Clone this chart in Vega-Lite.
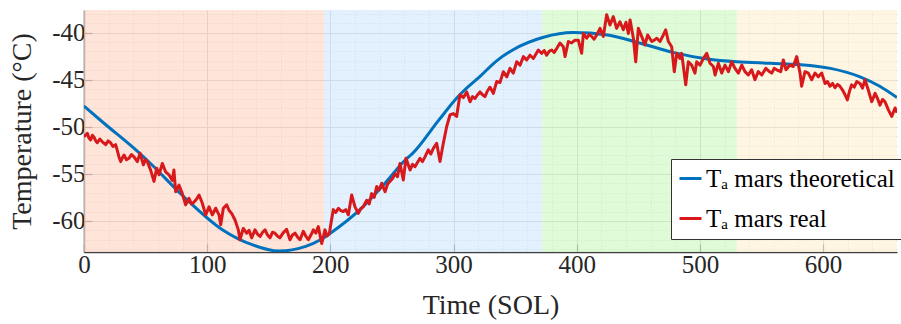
{
  "$schema": "https://vega.github.io/schema/vega-lite/v6.json",
  "width": 813,
  "height": 242,
  "autosize": {"type": "none"},
  "padding": {"left": 84, "top": 10, "right": 4, "bottom": 72},
  "background": "white",
  "config": {
    "view": {"stroke": null},
    "font": "Liberation Serif, Times New Roman, serif",
    "axis": {"labelFont": "Liberation Serif, Times New Roman, serif", "titleFont": "Liberation Serif, Times New Roman, serif", "labelColor": "#262626", "titleColor": "#262626", "titleFontWeight": "normal"},
    "legend": {"labelFont": "Liberation Serif, Times New Roman, serif"}
  },
  "datasets": {
    "bands": [
      {"start": 0, "end": 195, "season": "s1"},
      {"start": 195, "end": 372, "season": "s2"},
      {"start": 372, "end": 530, "season": "s3"},
      {"start": 530, "end": 660, "season": "s4"}
    ],
    "theo": [
      {"sol": 0, "temp": -47.8}, {"sol": 16, "temp": -49.6}, {"sol": 45, "temp": -52.8}, {"sol": 54, "temp": -53.9},
      {"sol": 80, "temp": -57.3}, {"sol": 112, "temp": -60.9}, {"sol": 137, "temp": -62.55}, {"sol": 158, "temp": -63.2},
      {"sol": 180, "temp": -62.7}, {"sol": 192, "temp": -62.0}, {"sol": 200, "temp": -61.3}, {"sol": 224, "temp": -58.8},
      {"sol": 243, "temp": -56.2}, {"sol": 261, "temp": -53.5}, {"sol": 267, "temp": -52.8}, {"sol": 288, "temp": -49.3},
      {"sol": 303, "temp": -46.9}, {"sol": 309, "temp": -46.1}, {"sol": 322, "temp": -44.6}, {"sol": 334, "temp": -43.1},
      {"sol": 348, "temp": -41.85}, {"sol": 373, "temp": -40.5}, {"sol": 397, "temp": -40.0}, {"sol": 425, "temp": -40.25},
      {"sol": 451, "temp": -41.1}, {"sol": 478, "temp": -42.1}, {"sol": 506, "temp": -42.8}, {"sol": 530, "temp": -43.1},
      {"sol": 557, "temp": -43.26}, {"sol": 581, "temp": -43.4}, {"sol": 606, "temp": -43.8}, {"sol": 630, "temp": -44.7},
      {"sol": 646, "temp": -45.7}, {"sol": 660, "temp": -46.9}
    ],
    "real": [
      {"sol": 0, "temp": -51.05}, {"sol": 1.3, "temp": -50.9}, {"sol": 2.7, "temp": -50.7}, {"sol": 4, "temp": -51.2}, {"sol": 5.4, "temp": -51.4}, {"sol": 6.8, "temp": -50.9}, {"sol": 8.1, "temp": -51.1},
      {"sol": 9.5, "temp": -51.5}, {"sol": 10.8, "temp": -51.7}, {"sol": 12.8, "temp": -51.3}, {"sol": 14.9, "temp": -51.6}, {"sol": 17.6, "temp": -51.9}, {"sol": 19.6, "temp": -51.5}, {"sol": 21.6, "temp": -51.7},
      {"sol": 23.5, "temp": -52.1}, {"sol": 25.7, "temp": -51.9}, {"sol": 27, "temp": -52.5}, {"sol": 28.4, "temp": -53.2}, {"sol": 29.8, "temp": -53.7}, {"sol": 31.2, "temp": -53.3}, {"sol": 32.5, "temp": -53.0},
      {"sol": 34.5, "temp": -53.5}, {"sol": 36.5, "temp": -53.35}, {"sol": 38.5, "temp": -52.95}, {"sol": 40.6, "temp": -53.2}, {"sol": 43.3, "temp": -53.7}, {"sol": 45.5, "temp": -52.8},
      {"sol": 48.2, "temp": -54.05}, {"sol": 49.8, "temp": -53.5}, {"sol": 51.4, "temp": -53.7}, {"sol": 54.1, "temp": -54.6}, {"sol": 56.8, "temp": -55.8},
      {"sol": 59, "temp": -54.4}, {"sol": 60.9, "temp": -55.1}, {"sol": 63.6, "temp": -53.9}, {"sol": 66.3, "temp": -54.8},
      {"sol": 69, "temp": -55.1}, {"sol": 71.7, "temp": -55.7}, {"sol": 73, "temp": -54.6}, {"sol": 74.4, "temp": -56.9},
      {"sol": 77.1, "temp": -56.2}, {"sol": 79.8, "temp": -57.1}, {"sol": 82.5, "temp": -58.3}, {"sol": 85.2, "temp": -57.6},
      {"sol": 87.3, "temp": -58.2}, {"sol": 89.3, "temp": -58.0}, {"sol": 91.3, "temp": -57.7}, {"sol": 93.4, "temp": -57.25}, {"sol": 96, "temp": -58.1}, {"sol": 98.8, "temp": -59.35},
      {"sol": 101.5, "temp": -58.5}, {"sol": 104.2, "temp": -59.35}, {"sol": 106.9, "temp": -58.65}, {"sol": 109.6, "temp": -59.35},
      {"sol": 111, "temp": -60.4}, {"sol": 113.1, "temp": -58.65}, {"sol": 115.8, "temp": -58.3}, {"sol": 117.9, "temp": -58.9}, {"sol": 119.9, "temp": -59.2},
      {"sol": 122.6, "temp": -59.9}, {"sol": 125.3, "temp": -60.95}, {"sol": 126.6, "temp": -62.0}, {"sol": 129.3, "temp": -60.8},
      {"sol": 132, "temp": -61.3}, {"sol": 134, "temp": -61.0}, {"sol": 136.1, "temp": -61.8}, {"sol": 138.8, "temp": -60.95}, {"sol": 140.8, "temp": -61.4}, {"sol": 142.9, "temp": -61.65},
      {"sol": 145, "temp": -61.2}, {"sol": 147, "temp": -60.95}, {"sol": 149, "temp": -61.5}, {"sol": 151, "temp": -61.8}, {"sol": 153, "temp": -61.2}, {"sol": 155, "temp": -61.3}, {"sol": 157, "temp": -61.6}, {"sol": 159, "temp": -61.8},
      {"sol": 161.5, "temp": -61.3}, {"sol": 164.5, "temp": -60.9}, {"sol": 167.2, "temp": -62.0}, {"sol": 169.2, "temp": -61.5}, {"sol": 171.3, "temp": -61.3}, {"sol": 173.3, "temp": -61.7}, {"sol": 175.4, "temp": -62.0},
      {"sol": 178, "temp": -61.1}, {"sol": 180, "temp": -61.6}, {"sol": 182.1, "temp": -62.0}, {"sol": 184.2, "temp": -61.5}, {"sol": 186.2, "temp": -60.95}, {"sol": 188.2, "temp": -61.3}, {"sol": 190.2, "temp": -60.6},
      {"sol": 193, "temp": -62.4}, {"sol": 195.6, "temp": -60.95}, {"sol": 197.4, "temp": -61.6}, {"sol": 199.2, "temp": -61.3}, {"sol": 200.8, "temp": -60.0}, {"sol": 202.4, "temp": -58.8},
      {"sol": 204.4, "temp": -59.1}, {"sol": 206.5, "temp": -58.65}, {"sol": 208.5, "temp": -58.9}, {"sol": 210.5, "temp": -59.0}, {"sol": 212.5, "temp": -58.8}, {"sol": 214.6, "temp": -59.35}, {"sol": 217.3, "temp": -57.25},
      {"sol": 220, "temp": -58.5}, {"sol": 222.7, "temp": -59.2}, {"sol": 224.7, "temp": -58.7}, {"sol": 226.7, "temp": -58.5}, {"sol": 229.5, "temp": -57.8}, {"sol": 231.5, "temp": -58.2},
      {"sol": 233.5, "temp": -57.1}, {"sol": 235.6, "temp": -57.5}, {"sol": 237.6, "temp": -56.35}, {"sol": 239.6, "temp": -56.7}, {"sol": 241.7, "temp": -56.0}, {"sol": 244.4, "temp": -56.9},
      {"sol": 246.4, "temp": -56.1}, {"sol": 248.4, "temp": -55.8}, {"sol": 250.5, "temp": -55.5}, {"sol": 252.5, "temp": -55.0}, {"sol": 254.5, "temp": -55.3}, {"sol": 256.5, "temp": -53.9}, {"sol": 259.2, "temp": -55.65},
      {"sol": 261.4, "temp": -53.35}, {"sol": 264.7, "temp": -54.6}, {"sol": 266.7, "temp": -54.0}, {"sol": 268.7, "temp": -54.25}, {"sol": 270.7, "temp": -53.8}, {"sol": 272.8, "temp": -53.35},
      {"sol": 274.8, "temp": -53.7}, {"sol": 276.8, "temp": -53.2}, {"sol": 279.5, "temp": -52.45}, {"sol": 281.5, "temp": -52.9}, {"sol": 283.6, "temp": -52.3}, {"sol": 286.3, "temp": -51.75},
      {"sol": 289, "temp": -53.7}, {"sol": 291.7, "temp": -51.75}, {"sol": 294.4, "temp": -50.0}, {"sol": 297.1, "temp": -48.75},
      {"sol": 299.8, "temp": -48.6}, {"sol": 302.5, "temp": -48.9}, {"sol": 305.2, "temp": -46.6}, {"sol": 308, "temp": -46.9}, {"sol": 310.7, "temp": -46.3}, {"sol": 313.4, "temp": -47.35},
      {"sol": 315.4, "temp": -46.8}, {"sol": 317.4, "temp": -47.0}, {"sol": 319.5, "temp": -46.6}, {"sol": 321.5, "temp": -46.3}, {"sol": 323.5, "temp": -46.6}, {"sol": 325.5, "temp": -46.8}, {"sol": 327.5, "temp": -46.2}, {"sol": 329.6, "temp": -45.8},
      {"sol": 332.3, "temp": -46.45}, {"sol": 335, "temp": -45.2}, {"sol": 337.7, "temp": -45.3}, {"sol": 340.4, "temp": -44.15},
      {"sol": 343.2, "temp": -44.7}, {"sol": 345.8, "temp": -43.8}, {"sol": 348.5, "temp": -44.3}, {"sol": 351.3, "temp": -43.1},
      {"sol": 354, "temp": -43.45}, {"sol": 356.7, "temp": -42.55}, {"sol": 359.4, "temp": -42.9}, {"sol": 362.1, "temp": -42.4},
      {"sol": 364.8, "temp": -42.75}, {"sol": 366.8, "temp": -42.3}, {"sol": 368.8, "temp": -41.85}, {"sol": 371.6, "temp": -42.2}, {"sol": 373.6, "temp": -41.9}, {"sol": 375.6, "temp": -42.4},
      {"sol": 377.6, "temp": -42.0}, {"sol": 379.7, "temp": -41.85}, {"sol": 381.7, "temp": -42.1}, {"sol": 383.7, "temp": -41.7}, {"sol": 386.4, "temp": -41.1}, {"sol": 389.1, "temp": -41.5},
      {"sol": 390.5, "temp": -42.55}, {"sol": 393.2, "temp": -40.95}, {"sol": 395.9, "temp": -41.1}, {"sol": 398.6, "temp": -40.8},
      {"sol": 401.3, "temp": -40.8}, {"sol": 404, "temp": -42.2}, {"sol": 405.4, "temp": -40.1}, {"sol": 408.1, "temp": -40.6},
      {"sol": 410.1, "temp": -40.2}, {"sol": 412.1, "temp": -40.4}, {"sol": 414.1, "temp": -40.7}, {"sol": 416.2, "temp": -40.25}, {"sol": 418.9, "temp": -39.55}, {"sol": 421.6, "temp": -40.4},
      {"sol": 424.3, "temp": -38.1}, {"sol": 427, "temp": -39.2}, {"sol": 429.7, "temp": -38.3}, {"sol": 432.4, "temp": -39.55},
      {"sol": 435.1, "temp": -38.85}, {"sol": 437.8, "temp": -39.7}, {"sol": 440, "temp": -38.9}, {"sol": 441.9, "temp": -40.1},
      {"sol": 443.3, "temp": -38.65}, {"sol": 446, "temp": -40.6}, {"sol": 447.9, "temp": -43.1}, {"sol": 450, "temp": -39.55},
      {"sol": 452.7, "temp": -40.4}, {"sol": 455.4, "temp": -41.3}, {"sol": 457.6, "temp": -40.25}, {"sol": 460.9, "temp": -40.95},
      {"sol": 463, "temp": -40.8}, {"sol": 465, "temp": -40.6}, {"sol": 467.6, "temp": -40.95}, {"sol": 470.3, "temp": -40.25}, {"sol": 472.2, "temp": -39.7},
      {"sol": 474.4, "temp": -40.95}, {"sol": 477.1, "temp": -41.5}, {"sol": 479.2, "temp": -44.15}, {"sol": 481.2, "temp": -42.2},
      {"sol": 483.8, "temp": -42.75}, {"sol": 485.2, "temp": -42.2}, {"sol": 488.5, "temp": -45.55}, {"sol": 490.6, "temp": -43.1},
      {"sol": 493.3, "temp": -43.45}, {"sol": 496, "temp": -44.3}, {"sol": 497.4, "temp": -43.1}, {"sol": 500.1, "temp": -43.45},
      {"sol": 502.8, "temp": -42.75}, {"sol": 505.5, "temp": -42.2}, {"sol": 508.2, "temp": -43.25}, {"sol": 510.9, "temp": -43.6},
      {"sol": 512.3, "temp": -44.5}, {"sol": 515, "temp": -43.25}, {"sol": 517.7, "temp": -44.3}, {"sol": 520.4, "temp": -43.45},
      {"sol": 523.1, "temp": -44.15}, {"sol": 525.8, "temp": -43.1}, {"sol": 528.5, "temp": -43.8}, {"sol": 531.2, "temp": -44.3},
      {"sol": 534, "temp": -43.45}, {"sol": 536.6, "temp": -44.15}, {"sol": 539.3, "temp": -44.5}, {"sol": 542, "temp": -43.95},
      {"sol": 544.7, "temp": -45.0}, {"sol": 547.4, "temp": -44.15}, {"sol": 550.2, "temp": -44.5}, {"sol": 553.5, "temp": -43.8},
      {"sol": 556, "temp": -44.1}, {"sol": 558.3, "temp": -44.3}, {"sol": 560.3, "temp": -43.8}, {"sol": 562.3, "temp": -43.95}, {"sol": 565.6, "temp": -44.15}, {"sol": 567.7, "temp": -42.9},
      {"sol": 569.9, "temp": -43.95}, {"sol": 573.1, "temp": -43.45}, {"sol": 575.8, "temp": -43.6}, {"sol": 578.6, "temp": -42.55},
      {"sol": 581.3, "temp": -44.3}, {"sol": 582.6, "temp": -45.7}, {"sol": 585.3, "temp": -44.15}, {"sol": 588, "temp": -44.3},
      {"sol": 590.8, "temp": -45.0}, {"sol": 593.4, "temp": -44.3}, {"sol": 596.1, "temp": -44.7}, {"sol": 598.9, "temp": -44.3},
      {"sol": 601.6, "temp": -45.4}, {"sol": 603.6, "temp": -45.2}, {"sol": 605.6, "temp": -45.7}, {"sol": 607.7, "temp": -45.4}, {"sol": 609.7, "temp": -45.85}, {"sol": 611.7, "temp": -45.5}, {"sol": 613.7, "temp": -45.7},
      {"sol": 615.8, "temp": -46.1}, {"sol": 617.8, "temp": -46.6}, {"sol": 619.7, "temp": -47.15}, {"sol": 621.5, "temp": -46.2}, {"sol": 623.2, "temp": -45.55}, {"sol": 625.3, "temp": -45.8}, {"sol": 627.3, "temp": -45.2},
      {"sol": 630, "temp": -45.4}, {"sol": 632, "temp": -45.9}, {"sol": 634, "temp": -45.0}, {"sol": 636.7, "temp": -46.1}, {"sol": 639.5, "temp": -47.35},
      {"sol": 642.2, "temp": -46.45}, {"sol": 644.2, "temp": -47.0}, {"sol": 646.2, "temp": -47.7}, {"sol": 648.3, "temp": -47.1}, {"sol": 650.3, "temp": -47.35}, {"sol": 653, "temp": -48.2},
      {"sol": 655.7, "temp": -48.9}, {"sol": 658.4, "temp": -48.0}, {"sol": 660, "temp": -48.5}
    ]
  },
  "layer": [
    {
      "data": {"name": "bands"},
      "mark": {"type": "rect", "opacity": 0.7},
      "encoding": {
        "x": {"field": "start", "type": "quantitative", "scale": {"domain": [0, 660], "nice": false, "zero": false}, "axis": null},
        "x2": {"field": "end"},
        "fill": {"field": "season", "type": "nominal", "scale": {"domain": ["s1", "s2", "s3", "s4"], "range": ["#FDD9C9", "#D7EAFC", "#D3F9C7", "#FEF1D7"]}, "legend": null}
      }
    },
    {
      "data": {"name": "theo"},
      "transform": [{"calculate": "'Tₐ mars theoretical'", "as": "series"}],
      "mark": {"type": "line", "strokeWidth": 3, "interpolate": "monotone", "clip": true},
      "encoding": {
        "x": {"field": "sol", "type": "quantitative", "scale": {"domain": [0, 660], "nice": false, "zero": false},
          "axis": {"orient": "top", "values": [20,40,60,80,120,140,160,180,220,240,260,280,320,340,360,380,420,440,460,480,520,540,560,580,620,640],
            "grid": true, "gridColor": "#c4c4c4", "gridDash": [1, 2], "gridWidth": 1, "labels": false, "ticks": false, "domain": false, "title": null}},
        "y": {"field": "temp", "type": "quantitative", "scale": {"domain": [-63.3, -37.6], "nice": false, "zero": false},
          "axis": {"orient": "right", "values": [-63,-62,-61,-59,-58,-57,-56,-54,-53,-52,-51,-49,-48,-47,-46,-44,-43,-42,-41,-39,-38],
            "grid": true, "gridColor": "#c4c4c4", "gridDash": [1, 2], "gridWidth": 1, "labels": false, "ticks": false, "domain": false, "title": null}},
        "stroke": {"field": "series", "type": "nominal",
          "scale": {"domain": ["Tₐ mars theoretical", "Tₐ mars real"], "range": ["#0072BD", "#D7191C"]},
          "legend": {"orient": "none", "legendX": 587, "legendY": 149, "title": null, "fillColor": "white", "strokeColor": "#333333",
            "padding": 7, "labelFont": "Liberation Serif, Times New Roman, serif", "labelFontSize": 25, "labelColor": "#000000", "labelLimit": 400,
            "symbolType": "stroke", "symbolStrokeWidth": 3, "symbolSize": 484, "rowPadding": 14, "labelOffset": 3}}
      }
    },
    {
      "data": {"name": "real"},
      "transform": [{"calculate": "'Tₐ mars real'", "as": "series"}],
      "mark": {"type": "line", "strokeWidth": 3, "strokeJoin": "round", "clip": true},
      "encoding": {
        "x": {"field": "sol", "type": "quantitative", "scale": {"domain": [0, 660], "nice": false, "zero": false},
          "axis": {"orient": "bottom", "values": [0,100,200,300,400,500,600], "grid": true, "gridColor": "#b8b8b8", "gridWidth": 1,
            "labelFlush": false, "labelFont": "Liberation Serif, Times New Roman, serif", "labelFontSize": 25, "labelPadding": 8, "tickSize": -8, "tickColor": "#404040", "tickWidth": 1.2,
            "domainColor": "#404040", "domainWidth": 1.5, "title": "Time (SOL)", "titleFont": "Liberation Serif, Times New Roman, serif", "titleFontSize": 28, "titlePadding": 14}},
        "y": {"field": "temp", "type": "quantitative", "scale": {"domain": [-63.3, -37.6], "nice": false, "zero": false},
          "axis": {"orient": "left", "values": [-60,-55,-50,-45,-40], "grid": true, "gridColor": "#b8b8b8", "gridWidth": 1,
            "labelExpr": "'-' + abs(datum.value)", "labelFont": "Liberation Serif, Times New Roman, serif", "labelFontSize": 25, "labelPadding": 7, "tickSize": -8, "tickColor": "#404040", "tickWidth": 1.2,
            "domainColor": "#404040", "domainWidth": 1.5, "title": "Temperature (°C)", "titleFont": "Liberation Serif, Times New Roman, serif", "titleFontSize": 28, "titlePadding": 15}},
        "stroke": {"field": "series", "type": "nominal",
          "scale": {"domain": ["Tₐ mars theoretical", "Tₐ mars real"], "range": ["#0072BD", "#D7191C"]}}
      }
    }
  ],
  "resolve": {"axis": {"x": "independent", "y": "independent"}}
}
